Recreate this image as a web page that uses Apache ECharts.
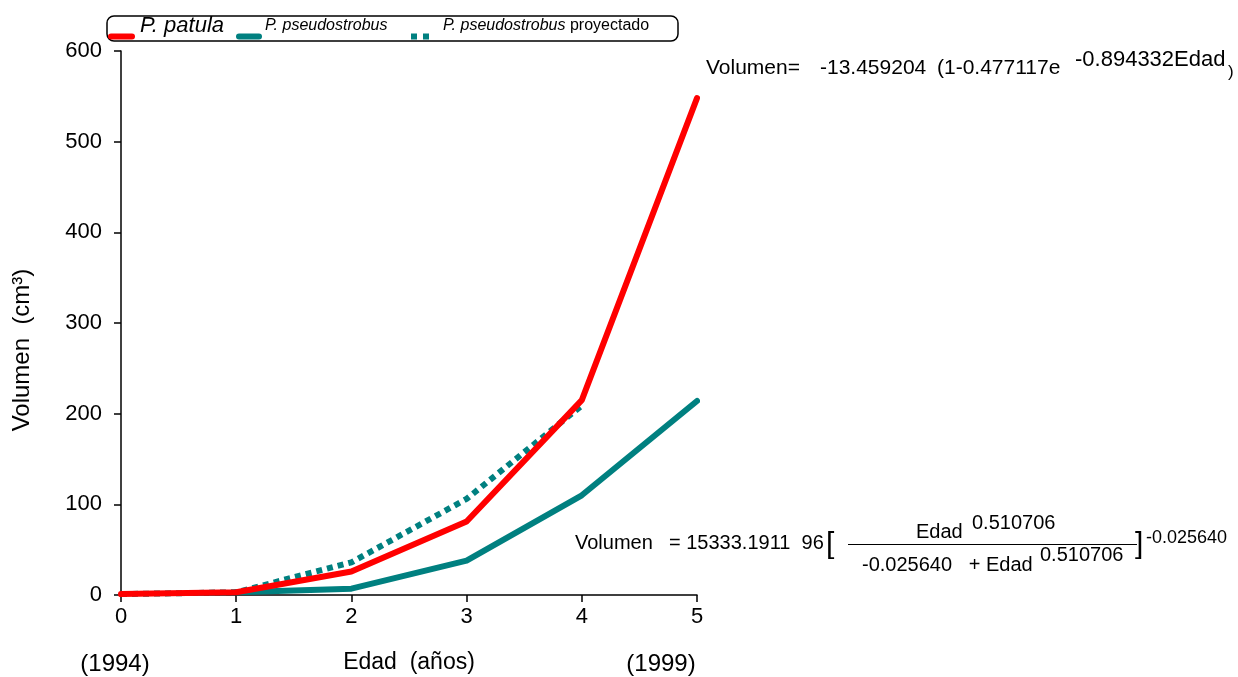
<!DOCTYPE html>
<html>
<head>
<meta charset="utf-8">
<script src="https://cdn.jsdelivr.net/npm/echarts@6/dist/echarts.min.js"></script>
<style>
html,body{margin:0;padding:0;background:#fff;}
#chart{width:1238px;height:677px;}
</style>
</head>
<body>
<div id="chart"></div>
<script>
// Data
var edad = [0, 1, 2, 3, 4, 5];
var yTicks = [0, 100, 200, 300, 400, 500, 600];
var patula = [1, 3, 26, 81, 215, 548];
var pseudostrobus = [null, 3, 7, 38, 110, 214];
var proyectado = [1, 3, 36, 106, 209, null];

function pairs(vals) {
  var out = [];
  for (var i = 0; i < edad.length; i++) {
    if (vals[i] !== null) out.push([edad[i], vals[i]]);
  }
  return out;
}

var RED = '#FF0000', TEAL = '#008080';
var FONT = 'Liberation Sans, Arial, sans-serif';

function txt(x, y, s, size, extra) {
  var st = {text: s, fontFamily: FONT, fontSize: size, fill: '#000', verticalAlign: 'middle'};
  if (extra) for (var k in extra) st[k] = extra[k];
  return {type: 'text', x: x, y: y, style: st};
}

var chart = echarts.init(document.getElementById('chart'), null, {renderer: 'canvas'});

var graphics = [
  // legend box
  {type: 'rect', shape: {x: 107, y: 16, width: 571, height: 25, r: 7},
   style: {fill: 'none', stroke: '#000', lineWidth: 1.5}},
  {type: 'line', shape: {x1: 111, y1: 36.5, x2: 132, y2: 36.5},
   style: {stroke: RED, lineWidth: 6, lineCap: 'round'}},
  txt(140, 26, 'P. patula', 22, {fontStyle: 'italic'}),
  {type: 'line', shape: {x1: 239, y1: 36.5, x2: 259, y2: 36.5},
   style: {stroke: TEAL, lineWidth: 6, lineCap: 'round'}},
  txt(265, 26, 'P. pseudostrobus', 16, {fontStyle: 'italic'}),
  {type: 'line', shape: {x1: 411, y1: 36.5, x2: 429, y2: 36.5},
   style: {stroke: TEAL, lineWidth: 6, lineDash: [6, 6], lineCap: 'butt'}},
  txt(443, 26, '{i|P. pseudostrobus} proyectado', 16,
      {rich: {i: {fontFamily: FONT, fontSize: 16, fontStyle: 'italic', fill: '#000'}}}),

  // axis titles
  {type: 'text', x: 22, y: 350, rotation: Math.PI / 2,
   style: {text: 'Volumen  (cm³)', fontFamily: FONT, fontSize: 24, fill: '#000', align: 'center', verticalAlign: 'middle'}},
  txt(409, 663, 'Edad  (años)', 23, {align: 'center'}),
  txt(115, 664, '(1994)', 24, {align: 'center'}),
  txt(661, 664, '(1999)', 24, {align: 'center'}),

  // top equation
  txt(706, 68, 'Volumen=', 21),
  txt(820, 68, '-13.459204', 21),
  txt(937, 68, '(1-0.477117e', 21),
  txt(1075, 60, '-0.894332Edad', 22),
  txt(1228, 72, ')', 17),

  // bottom equation
  txt(575, 543, 'Volumen', 20),
  txt(669, 543, '= 15333.1911  96', 20),
  txt(826, 545, '[', 30),
  txt(916, 532, 'Edad', 20),
  txt(972, 523, '0.510706', 20),
  {type: 'line', shape: {x1: 848, y1: 544.5, x2: 1137, y2: 544.5}, style: {stroke: '#000', lineWidth: 1}},
  txt(862, 565, '-0.025640   + Edad', 20),
  txt(1040, 555, '0.510706', 20),
  txt(1135, 545, ']', 30),
  txt(1146, 538, '-0.025640', 18)
];

var option = {
  backgroundColor: '#fff',
  animation: false,
  grid: {left: 121, right: 541, top: 51, bottom: 82, containLabel: false},
  xAxis: {
    type: 'value', min: 0, max: 5, interval: 1,
    axisLine: {show: true, onZero: false, lineStyle: {color: '#000', width: 1.5}},
    axisTick: {show: true, length: 7, inside: false, lineStyle: {color: '#000', width: 1.5}},
    axisLabel: {color: '#000', fontSize: 22, fontFamily: FONT, margin: 11},
    splitLine: {show: false}
  },
  yAxis: {
    type: 'value', min: yTicks[0], max: yTicks[yTicks.length - 1], interval: 100,
    axisLine: {show: true, lineStyle: {color: '#000', width: 1.5}},
    axisTick: {show: true, length: 7, inside: false, lineStyle: {color: '#000', width: 1.5}},
    axisLabel: {color: '#000', fontSize: 22, fontFamily: FONT, margin: 19},
    splitLine: {show: false}
  },
  series: [
    {name: 'P. pseudostrobus proyectado', type: 'line', data: pairs(proyectado), showSymbol: false,
     lineStyle: {color: TEAL, width: 6, type: [6, 5], cap: 'butt'}, z: 2},
    {name: 'P. pseudostrobus', type: 'line', data: pairs(pseudostrobus), showSymbol: false,
     lineStyle: {color: TEAL, width: 6, cap: 'round', join: 'round'}, z: 3},
    {name: 'P. patula', type: 'line', data: pairs(patula), showSymbol: false,
     lineStyle: {color: RED, width: 6, cap: 'round', join: 'round'}, z: 4}
  ],
  graphic: graphics
};
chart.setOption(option);
</script>
</body>
</html>
